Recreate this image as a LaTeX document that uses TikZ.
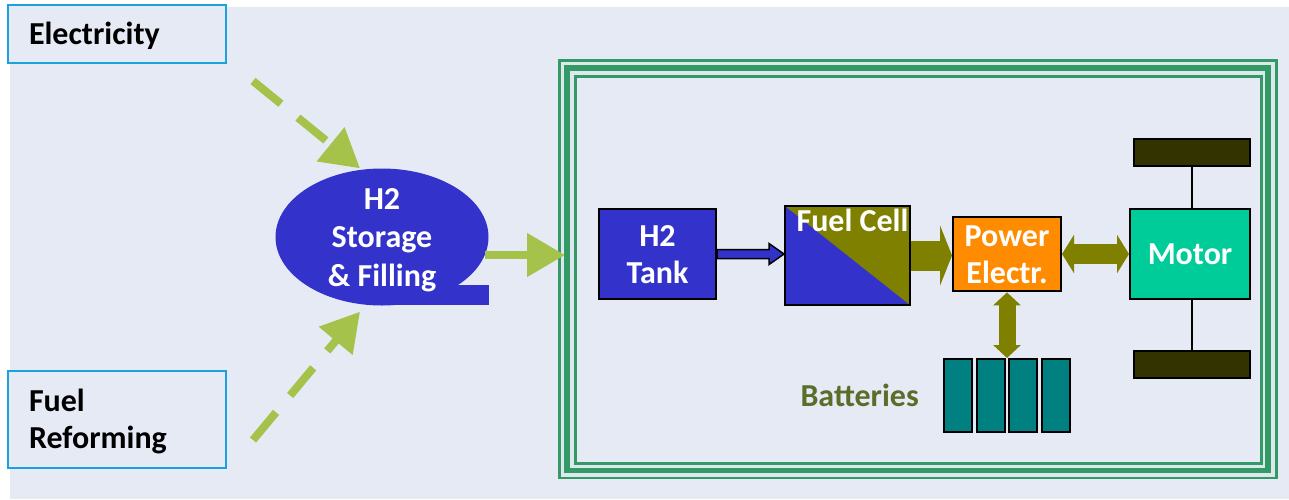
\documentclass[tikz,border=0pt]{standalone}
\usepackage{fontspec}
\setmainfont{Carlito}
\usetikzlibrary{arrows.meta,positioning,calc,shapes.geometric}

\definecolor{slidebg}{HTML}{E6EAF5}
\definecolor{srcline}{HTML}{1BA1DE}
\definecolor{feedgreen}{HTML}{A5C24B}
\definecolor{h2blue}{HTML}{3333CC}
\definecolor{cellolive}{HTML}{808000}
\definecolor{poweror}{HTML}{FF8C00}
\definecolor{motorgreen}{HTML}{00CC99}
\definecolor{wheeldark}{HTML}{333300}
\definecolor{batteal}{HTML}{008080}
\definecolor{framegreen}{HTML}{339966}
\definecolor{framegap}{HTML}{DCE8EC}
\definecolor{batgreen}{HTML}{5A6E2A}

\newcommand{\toprow}{\rule{0pt}{29.5pt}}
\newcommand{\lastrow}{\rule[-8.3pt]{0pt}{8.3pt}}

\begin{document}
\begin{tikzpicture}[x=1pt,y=-1pt,
    txt/.style={font=\bfseries\fontsize{32}{37}\selectfont, inner sep=0pt},
    oneline/.style={text height=29.5pt, text depth=8.3pt},
    srcbox/.style={txt, draw=srcline, fill=slidebg, line width=2pt, minimum width=218pt, text width=176pt, align=left},
    part/.style={txt, draw=black, line width=2pt, text=white, align=center},
    wheel/.style={draw=black, line width=2pt, fill=wheeldark, minimum width=116pt, minimum height=27pt},
    batcell/.style={draw=black, line width=2pt, fill=batteal, minimum width=28pt, minimum height=73pt},
    feed/.style={draw=feedgreen, line width=8pt, -{Triangle[length=38pt,width=42pt]}},
    srcfeed/.style={feed, dash pattern=on 36pt off 22pt},
    blockflow/.style={draw=cellolive, fill=cellolive}]
    \useasboundingbox (0,0) rectangle (1289,499);
    \fill[slidebg] (10,7) rectangle (1289,499);

    \draw[framegreen, line width=2.5pt, fill=framegap] (559.5,60.5) rectangle (1276.3,478);
    \draw[framegreen, line width=5.5pt] (567,68) rectangle (1268,470.5);
    \draw[framegreen, line width=3pt, fill=slidebg] (575,76.5) rectangle (1261,463);

    \node[srcbox, oneline, minimum height=58pt] (elec) at (117,34) {Electricity};
    \node[srcbox, minimum height=97pt] (reform) at (117,419.5) {\toprow Fuel\\Reforming\lastrow};

    \fill[h2blue] (382,285) rectangle (489,305);
    \node[txt, ellipse, fill=h2blue, text=white, align=center, inner ysep=-12pt, minimum width=213pt, minimum height=137pt] (store) at (382,237) {\toprow H2\\[1.5pt]Storage\\[1.5pt]\& Filling\lastrow};

    \coordinate (elecend) at (253,81);
    \coordinate (reformend) at (253,440);
    \coordinate (frameentry) at (565,255);
    \draw[srcfeed] (elecend) -- ([xshift=-22pt]store.north);
    \draw[srcfeed] (reformend) -- ([xshift=-22pt,yshift=-6pt]store.south);
    \draw[feed, shorten <=-4pt] (store.east |- frameentry) -- (frameentry);

    \node[part, fill=h2blue, minimum width=117pt, minimum height=90pt] (tank) at (657.5,254) {\toprow H2\\Tank\lastrow};
    \node[part, fill=h2blue, minimum width=125pt, minimum height=99pt,
        path picture={\fill[cellolive] (path picture bounding box.north west) -- (path picture bounding box.north east) -- (path picture bounding box.south east) -- cycle;}] (cell) at (847.5,255.5) {};
    \node[txt, oneline, text=white, below=-3.5pt of cell.north, xshift=5pt] (celllabel) {Fuel Cell};
    \node[part, fill=poweror, minimum width=108pt, minimum height=72pt] (power) at (1007,254) {\toprow Power\\Electr.\lastrow};
    \node[part, oneline, fill=motorgreen, minimum width=120pt, minimum height=90pt] (motor) at (1190,254) {Motor};

    \node[wheel] (wheeltop) at (1192,152.5) {};
    \node[wheel] (wheelbot) at (1192,364.5) {};
    \draw[line width=2pt] (wheeltop.south) -- (wheeltop.south |- motor.north);
    \draw[line width=2pt] (wheelbot.north) -- (wheelbot.north |- motor.south);

    \foreach \i in {1,...,4}
        \node[batcell] (bat\i) at ({925.5+32.5*\i},395.5) {};
    \node[txt, oneline, text=batgreen, left=24pt of bat1] (batlabel) {Batteries};

    \draw[line width=1.5pt, fill=h2blue] ($(tank.east)+(0,-4.5)$) -- ++(52,0) -- ++(0,-6) -- (tank.east -| cell.west) -- ($(tank.east)+(52,10.5)$) -- ++(0,-6) -- ($(tank.east)+(0,4.5)$) -- cycle;
    \draw[blockflow, line width=30pt, -{Triangle[length=12pt,width=60pt]}] (cell.east) -- (cell.east -| power.west);
    \draw[blockflow, line width=20pt, {Triangle[length=12pt,width=38pt]}-{Triangle[length=12pt,width=38pt]}] (power.east) -- (power.east -| motor.west);
    \draw[blockflow, line width=17pt, {Triangle[length=13pt,width=27pt]}-{Triangle[length=13pt,width=27pt]}] (power.south) -- (power.south |- bat3.north);
\end{tikzpicture}
\end{document}
